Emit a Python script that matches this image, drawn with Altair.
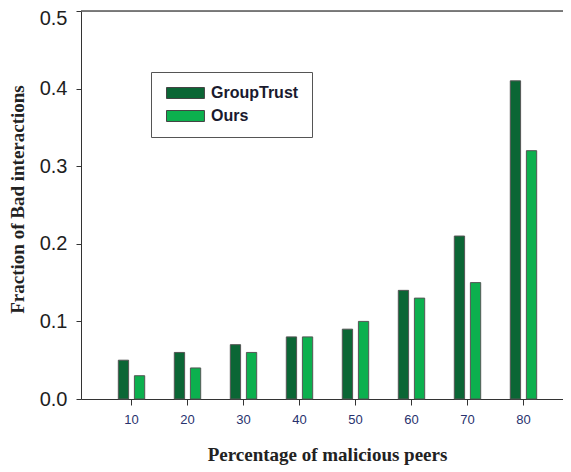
import altair as alt
import pandas as pd

categories = ["10", "20", "30", "40", "50", "60", "70", "80"]
group_trust = [0.05, 0.06, 0.07, 0.08, 0.09, 0.14, 0.21, 0.41]
ours = [0.03, 0.04, 0.06, 0.08, 0.10, 0.13, 0.15, 0.32]
series = ["GroupTrust", "Ours"]
colors = ["#0b6635", "#0cb04e"]
y_ticks = [0.0, 0.1, 0.2, 0.3, 0.4, 0.5]

rows = []
for c, g, o in zip(categories, group_trust, ours):
    rows.append({"peers": c, "series": series[0], "value": g})
    rows.append({"peers": c, "series": series[1], "value": o})
df = pd.DataFrame(rows)

bars = alt.Chart(df).mark_bar(stroke="#555555", strokeWidth=1).encode(
    x=alt.X(
        "peers:N",
        sort=categories,
        scale=alt.Scale(paddingInner=0.5, paddingOuter=0.652, range=[0, 493]),
        axis=alt.Axis(
            title="Percentage of malicious peers",
            labelAngle=0,
            labelFont="Liberation Sans",
            labelFontSize=13,
            labelColor="#28326e",
            labelPadding=8,
            tickSize=6,
            tickColor="#333333",
            domainColor="#333333",
            titleFont="Liberation Serif",
            titleFontSize=19,
            titleFontWeight="bold",
            titleColor="#222222",
            titleY=61,
            titleX=246,
            titleBaseline="alphabetic",
        ),
    ),
    xOffset=alt.XOffset(
        "series:N",
        sort=series,
        scale=alt.Scale(paddingInner=0.36, paddingOuter=0.05),
    ),
    y=alt.Y(
        "value:Q",
        scale=alt.Scale(domain=[0, 0.5], nice=False),
        axis=alt.Axis(
            title="Fraction of Bad interactions",
            values=y_ticks,
            format=".1f",
            grid=False,
            labelFont="Liberation Sans",
            labelFontSize=20,
            labelColor="#1e1e1e",
            labelPadding=9,
            labelOffset={"condition": {"test": "datum.value == 0.5", "value": 7}, "value": 0},
            tickSize=5,
            tickColor="#333333",
            domainColor="#333333",
            titleFont="Liberation Serif",
            titleFontSize=19,
            titleFontWeight="bold",
            titleColor="#222222",
            titleX=-64,
            titleY=188,
            titleBaseline="middle",
        ),
    ),
    color=alt.Color(
        "series:N",
        sort=series,
        scale=alt.Scale(domain=series, range=colors),
        legend=alt.Legend(
            title=None,
            orient="none",
            legendX=70,
            legendY=61,
            direction="vertical",
            symbolType="M-1,-1H5.9V1H-1Z",
            symbolSize=121,
            symbolStrokeColor="#444444",
            symbolStrokeWidth=1,
            symbolOpacity=1,
            labelFont="Liberation Sans",
            labelFontSize=16,
            labelFontWeight="bold",
            labelColor="#1a1a2e",
            labelOffset=31,
            rowPadding=7,
            padding=13,
            strokeColor="#555555",
            fillColor="white",
        ),
    ),
)

top_line = alt.Chart(pd.DataFrame({"v": [0.5]})).mark_rule(
    color="#555555", strokeWidth=1.5
).encode(y=alt.Y("v:Q"))

chart = alt.layer(bars, top_line).properties(
    width=482,
    height=388,
    autosize=alt.AutoSizeParams(type="none"),
    padding={"left": 73, "top": 3, "right": 0, "bottom": 70},
).configure_view(stroke=None).configure(background="white")

chart.save("out.html", embed_options={"renderer": "svg", "actions": False})
